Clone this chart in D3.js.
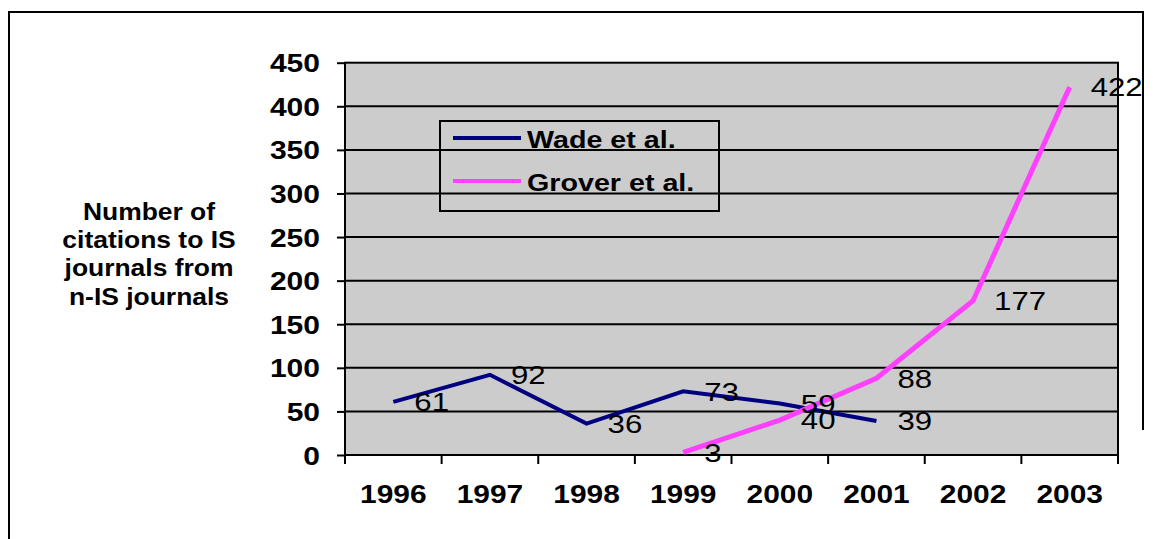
<!DOCTYPE html>
<html>
<head>
<meta charset="utf-8">
<script src="https://cdn.jsdelivr.net/npm/d3@7"></script>
<style>
  body { margin: 0; background: #fff; }
  text { font-family: "Liberation Sans", Arial, sans-serif; }
</style>
</head>
<body>
<div id="canvas"></div>
<script>
const years = ["1996", "1997", "1998", "1999", "2000", "2001", "2002", "2003"];
const wade = [61, 92, 36, 73, 59, 39, null, null];
const grover = [null, null, null, 3, 40, 88, 177, 422];
const yTicks = [0, 50, 100, 150, 200, 250, 300, 350, 400, 450];
const titleLines = ["Number of", "citations to IS", "journals from", "n-IS journals"];
const seriesNames = ["Wade et al.", "Grover et al."];

const width = 1153;
const height = 539;
const plot = { left: 345, top: 62.7, right: 1118, bottom: 455 };
const colors = ["#000080", "#ff40ff"];

const svg = d3.select("#canvas").append("svg")
    .attr("width", width)
    .attr("height", height);

// stretch text horizontally, the picture is a bit wide
function stretch(sel, k) {
    sel.each(function() {
        const t = d3.select(this);
        const x = +t.attr("x") || 0, y = +t.attr("y") || 0;
        t.attr("x", 0).attr("y", 0)
         .attr("transform", `translate(${x},${y}) scale(${k},1)`);
    });
}

// outer frame
svg.append("path")
    .attr("d", `M9,${height} V12 H1143 V430`)
    .attr("fill", "none")
    .attr("stroke", "#000")
    .attr("stroke-width", 2);

const x = d3.scaleBand().domain(years).range([plot.left, plot.right]);
const px = d => x(d) + x.bandwidth() / 2;
const y = d3.scaleLinear().domain([0, 450]).range([plot.bottom, plot.top]);

svg.append("rect")
    .attr("x", plot.left).attr("y", plot.top)
    .attr("width", plot.right - plot.left)
    .attr("height", plot.bottom - plot.top)
    .attr("fill", "#cccccc");

svg.append("g").selectAll("line")
    .data(yTicks.filter(d => d > 0 && d < 450))
    .enter().append("line")
    .attr("x1", plot.left).attr("x2", plot.right)
    .attr("y1", d => y(d)).attr("y2", d => y(d))
    .attr("stroke", "#000").attr("stroke-width", 2);

svg.append("rect")
    .attr("x", plot.left).attr("y", plot.top)
    .attr("width", plot.right - plot.left)
    .attr("height", plot.bottom - plot.top)
    .attr("fill", "none")
    .attr("stroke", "#000").attr("stroke-width", 2);

// y axis
const yAxis = svg.append("g")
    .attr("transform", `translate(${plot.left},0)`)
    .call(d3.axisLeft(y).tickValues(yTicks).tickSize(8).tickPadding(0));
yAxis.select(".domain").remove();
yAxis.selectAll("line").attr("stroke", "#000").attr("stroke-width", 2);
yAxis.selectAll("text")
    .attr("x", -25).attr("dy", "0.36em")
    .attr("font-size", 25).attr("font-weight", "bold")
    .attr("fill", "#000")
    .attr("font-family", "Liberation Sans, Arial, sans-serif");
stretch(yAxis.selectAll("text"), 1.2);

// x axis
const xAxis = svg.append("g")
    .attr("transform", `translate(0,${plot.bottom})`)
    .call(d3.axisBottom(x).tickSize(0).tickPadding(0));
xAxis.select(".domain").remove();
xAxis.selectAll("text")
    .attr("y", 48).attr("dy", 0)
    .attr("font-size", 26).attr("font-weight", "bold")
    .attr("fill", "#000")
    .attr("font-family", "Liberation Sans, Arial, sans-serif");
stretch(xAxis.selectAll("text"), 1.15);

svg.append("g").selectAll("line")
    .data(years.map(d => x(d)).concat([plot.right]))
    .enter().append("line")
    .attr("x1", d => d).attr("x2", d => d)
    .attr("y1", plot.bottom).attr("y2", plot.bottom + 9)
    .attr("stroke", "#000").attr("stroke-width", 2);

// series
const line = d3.line()
    .defined(d => d.v != null)
    .x(d => px(d.year))
    .y(d => y(d.v));

[wade, grover].forEach((vals, i) => {
    const pts = years.map((yr, j) => ({ year: yr, v: vals[j] }));
    svg.append("path")
        .datum(pts)
        .attr("d", line)
        .attr("fill", "none")
        .attr("stroke", colors[i])
        .attr("stroke-width", i == 0 ? 4 : 5);
});

[wade, grover].forEach(vals => {
    const pts = years.map((yr, j) => ({ year: yr, v: vals[j] })).filter(d => d.v != null);
    const labels = svg.append("g").selectAll("text")
        .data(pts)
        .enter().append("text")
        .attr("x", d => px(d.year) + 21)
        .attr("y", d => y(d.v))
        .attr("dy", "0.36em")
        .attr("font-size", 26)
        .attr("fill", "#000")
        .text(d => d.v);
    stretch(labels, 1.2);
});

// legend
const legend = svg.append("g");
legend.append("rect")
    .attr("x", 440).attr("y", 121)
    .attr("width", 279).attr("height", 90)
    .attr("fill", "none")
    .attr("stroke", "#000").attr("stroke-width", 2);
seriesNames.forEach((name, i) => {
    const ly = 138 + i * 43;
    legend.append("line")
        .attr("x1", 453).attr("x2", 521)
        .attr("y1", ly).attr("y2", ly)
        .attr("stroke", colors[i]).attr("stroke-width", 4);
    const t = legend.append("text")
        .attr("x", 527).attr("y", ly + 10)
        .attr("font-size", 23.5).attr("font-weight", "bold")
        .text(name);
    stretch(t, 1.22);
});

// axis title
const title = svg.append("g").selectAll("text")
    .data(titleLines)
    .enter().append("text")
    .attr("x", 149)
    .attr("y", (d, i) => 220 + i * 28.2)
    .attr("text-anchor", "middle")
    .attr("font-size", 23).attr("font-weight", "bold")
    .text(d => d);
stretch(title, 1.15);
</script>
</body>
</html>
